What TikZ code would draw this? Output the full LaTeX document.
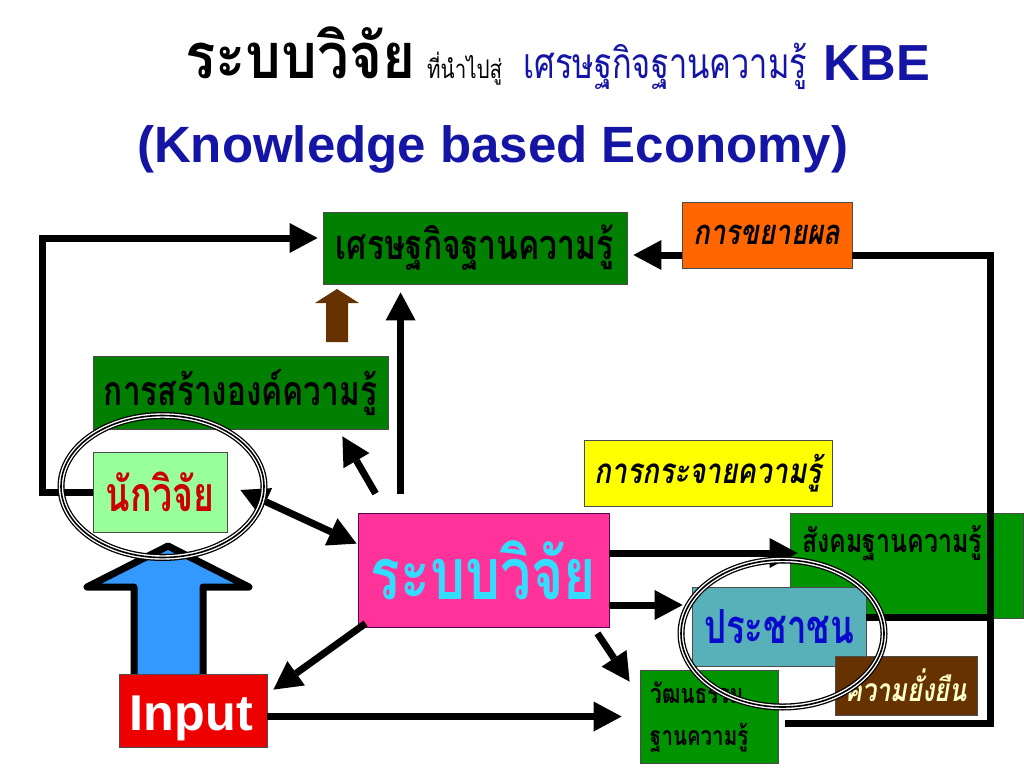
\documentclass[tikz,border=0pt]{standalone}
\usepackage{fontspec}
\usepackage{graphicx}
\usetikzlibrary{arrows.meta,calc}
\newfontfamily\thai[Script=Thai]{Loma}
\newfontfamily\arialf{Liberation Sans}
\definecolor{kgreen}{HTML}{007F00}
\definecolor{kgreenb}{HTML}{009400}
\definecolor{lgreen}{HTML}{99FF99}
\definecolor{kpink}{HTML}{FF3399}
\definecolor{kcyan}{HTML}{33DDFF}
\definecolor{kyellow}{HTML}{FFFF00}
\definecolor{korange}{HTML}{FF6600}
\definecolor{kteal}{HTML}{58B0B8}
\definecolor{kbrown}{HTML}{663300}
\definecolor{kred}{HTML}{EE0000}
\definecolor{tblue}{HTML}{1515A5}
\definecolor{pblue}{HTML}{0A0ACC}
\definecolor{nred}{HTML}{CC0000}
\definecolor{cream}{HTML}{FFFFCC}
\definecolor{ablue}{HTML}{3399FF}
\newcommand\fitto[3][1.3]{\resizebox{#2}{!}{\scalebox{1}[#1]{#3}}}
\begin{document}
\begin{tikzpicture}[x=1pt,y=-1pt,
  box/.style={draw=black!70,line width=0.8pt,inner sep=0pt,rectangle},
  conn/.style={line width=7pt,-{Triangle[length=28pt,width=30pt,line width=0pt]}},
  dconn/.style={line width=7pt,{Triangle[length=28pt,width=30pt,line width=0pt]}-{Triangle[length=28pt,width=30pt,line width=0pt]}},
  bline/.style={line width=7pt},
  lbl/.style={inner sep=0pt}
]
\fill[white] (0,0) rectangle (1024,768);
\useasboundingbox (0,0) rectangle (1024,768);

% title
\node[lbl,anchor=base west] (t1) at (185,78) {\fitto[1.12]{230pt}{\thai\bfseries ระบบวิจัย}};
\node[lbl,anchor=base west] (t2) at (427,78) {\fitto[1.25]{75pt}{\thai ที่นำไปสู่}};
\node[lbl,anchor=base west,text=tblue] (t3) at (523,78) {\fitto[1.3]{284pt}{\thai เศรษฐกิจฐานความรู้}};
\node[lbl,anchor=base west,text=tblue] (t4) at (823,80) {\fitto[1]{107pt}{\arialf\bfseries KBE}};
\node[lbl,anchor=base west,text=tblue] (t5) at (137,162) {\fitto[1]{711pt}{\arialf\bfseries (Knowledge based Economy)}};

% blue block arrow
\draw[line width=7pt,line join=round,fill=ablue] (134,678) -- (134,587) -- (87,587) -- (168,546) -- (249,587) -- (203,587) -- (203,678);

% brown block arrow
\fill[kbrown] (326,342) -- (326,303) -- (315,303) -- (337,289) -- (359,303) -- (348,303) -- (348,342) -- cycle;

% boxes
\node[box,fill=kgreen,minimum width=304pt,minimum height=72pt] (keb) at (475,248) {\fitto{278pt}{\thai\bfseries เศรษฐกิจฐานความรู้}};
\node[box,fill=korange,minimum width=170pt,minimum height=66pt] (expand) at (767,235) {\fitto[1.25]{147pt}{\thai\bfseries\itshape การขยายผล}};
\node[box,fill=kgreen,minimum width=295pt,minimum height=73pt] (create) at (240.5,392.5) {\fitto{273pt}{\thai\bfseries การสร้างองค์ความรู้}};
\node[box,fill=lgreen,minimum width=134pt,minimum height=80pt,text=nred] (nak) at (160,492) {\fitto[1.35]{108pt}{\thai\bfseries นักวิจัย}};
\node[box,fill=kpink,draw=violet!70!black,minimum width=251pt,minimum height=114pt,text=kcyan] (sys) at (483.5,570) {\fitto[1.3]{225pt}{\thai\bfseries ระบบวิจัย}};
\node[box,fill=kyellow,minimum width=248pt,minimum height=66pt] (spread) at (708,473) {\fitto[1.25]{227pt}{\thai\bfseries\itshape การกระจายความรู้}};
\node[box,fill=kgreenb,minimum width=233pt,minimum height=105pt] (soc) at (906.5,565.5) {};
\node[lbl,anchor=west] (soct) at (802,543) {\fitto{180pt}{\thai\bfseries สังคมฐานความรู้}};
\node[box,fill=kteal,minimum width=174pt,minimum height=79pt,text=pblue] (people) at (779,626.5) {\fitto[1.35]{150pt}{\thai\bfseries ประชาชน}};
\node[box,fill=kbrown,minimum width=142pt,minimum height=59pt,text=cream] (sustain) at (906,685.5) {\fitto[1.25]{122pt}{\thai\bfseries\itshape ความยั่งยืน}};
\node[box,fill=kgreenb,minimum width=138pt,minimum height=93pt] (culture) at (709,716.5) {};
\node[lbl,anchor=west] (cult1) at (650,693) {\fitto{93pt}{\thai\bfseries วัฒนธรรม}};
\node[lbl,anchor=west] (cult2) at (650,738) {\fitto{98pt}{\thai\bfseries ฐานความรู้}};
\node[box,fill=kred,minimum width=148pt,minimum height=73pt] (input) at (193,710.5) {};
\node[lbl,anchor=base,text=white] (inputt) at ($(input.south)+(-1.5,-17)$) {\fitto[1]{123pt}{\arialf\bfseries Input}};

% connectors
\draw[conn] (nak.west) -- ++(-50,0) |- ($(keb.west)+(-5,-10)$);
\draw[conn] ($(sys.north west)+(43,-19)$) -- ($(sys.north west |- keb.south)+(43,8)$);
\draw[conn] ($(sys.north west)+(18,-19)$) -- ($(create.south east)+(-46,7)$);
\draw[dconn] ($(nak.east)+(13,-2)$) -- ($(sys.north west)+(-1,31)$);
\draw[conn] ($(sys.south west)+(8,-4)$) -- ($(input.north east)+(6,16)$);
\draw[conn] (input.east |- culture.west) -- ($(culture.west)+(-18,0)$);
\draw[conn] ($(sys.east)+(0,-17)$) -- ($(soc.west)+(8,-12.5)$);
\draw[conn] ($(sys.east)+(0,35)$) -- ($(people.west)+(-9,-21.5)$);
\draw[conn] ($(sys.south east)+(-12,6)$) -- ($(culture.north west)+(-10,12)$);
\draw[conn] ($(expand.west)+(0,20)$) -- ($(keb.east)+(6,7)$);
\coordinate (rc) at (990,723);
\draw[bline] ($(expand.east)+(0,20)$) -| (rc) -- ($(culture.east |- rc)+(7,0)$);
\draw[bline] ($(people.east)+(0,-9.5)$) -| (rc);

% triple ellipses
\foreach \w/\c in {7/black,4.4/white,1.6/black}{
  \draw[line width=\w pt,\c] (162.5,486.5) ellipse [x radius=101.5pt, y radius=71pt];
  \draw[line width=\w pt,\c] (782.5,633.5) ellipse [x radius=101.5pt, y radius=73.5pt];
}
\end{tikzpicture}
\end{document}
